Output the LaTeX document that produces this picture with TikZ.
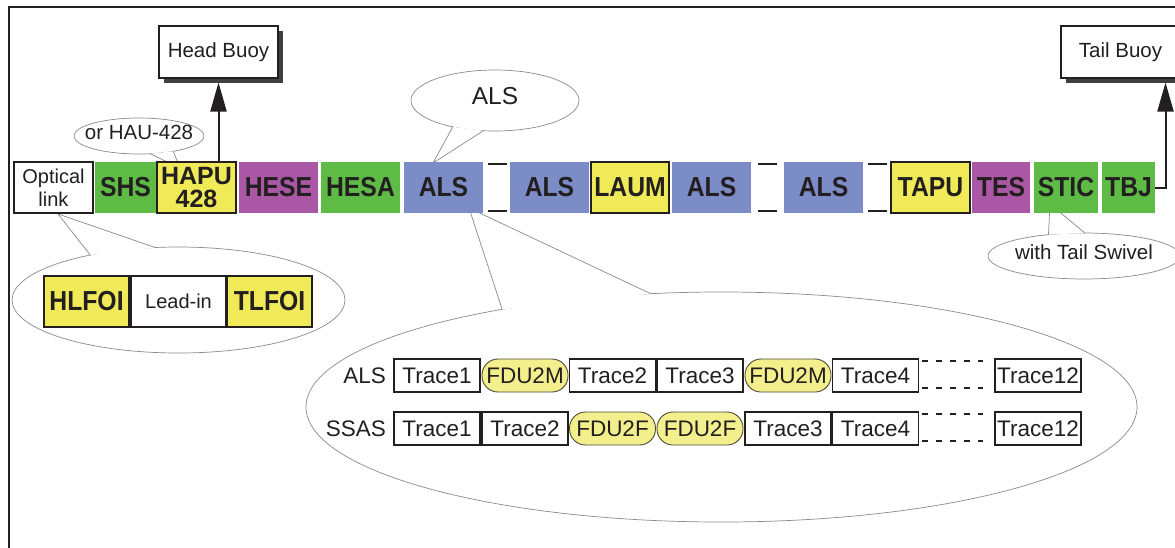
\documentclass[tikz,border=0pt]{standalone}
\usepackage{fontspec}
\setmainfont{Liberation Sans}
\newfontfamily\segfont[FakeStretch=0.9]{Liberation Sans}
\usetikzlibrary{shapes.geometric,arrows.meta,calc,shadows}

\definecolor{ink}{HTML}{231F20}
\definecolor{segGreen}{HTML}{5DBB46}
\definecolor{segPurple}{HTML}{AA58A5}
\definecolor{segBlue}{HTML}{7B8CC7}
\definecolor{segYellow}{HTML}{F0EA58}
\definecolor{fduYellow}{HTML}{F3EF8C}
\definecolor{fduEdge}{HTML}{4B4A35}
\definecolor{noteGray}{HTML}{8A8A8A}

\begin{document}
\begin{tikzpicture}[x=1pt,y=-1pt,
  every node/.style={inner sep=0pt,outer sep=0pt,text=ink},
  seg/.style={minimum width=79pt,minimum height=51pt,align=center,
    font=\segfont\fontsize{27.5}{23}\selectfont\bfseries},
  segbox/.style={seg,draw=ink,line width=2pt},
  note/.style={ellipse,draw=noteGray,line width=0.7pt,fill=white},
  notetext/.style={yshift=4pt,font=\fontsize{20.5}{24}\selectfont},
  tail/.style={draw=noteGray,line width=0.7pt,fill=white},
  buoy/.style={draw=ink,line width=2pt,fill=white,minimum width=119pt,
    minimum height=52pt,font=\fontsize{20.5}{24}\selectfont,
    drop shadow={shadow xshift=5pt,shadow yshift=-4.5pt,opacity=1,fill=black!75}},
  trace/.style={draw=ink,line width=1.8pt,fill=white,minimum width=86pt,
    minimum height=33pt,font=\fontsize{22.5}{24}\selectfont},
  fdu/.style={trace,draw=fduEdge,line width=0.9pt,fill=fduYellow,
    rounded corners=16pt},
  upline/.style={ink,line width=2pt,-{Triangle[length=29pt,width=16pt]},
    shorten >=4.5pt},
  brk/.style={ink,line width=2pt},
  tracegap/.style={ink,line width=1.5pt,dash pattern=on 6pt off 8pt}]
\useasboundingbox (0,0) rectangle (1175,547);
\clip (0,0) rectangle (1175,547);

% outer frame
\draw[ink,line width=1.8pt] (9,560) -- (9,7) -- (1190,7);

% callout tips
\coordinate (hautip) at (180,168);
\coordinate (alstip) at (433,163);
\coordinate (opttip) at (58,214);
\coordinate (detailtip) at (469,208);
\coordinate (stictip) at (1050,204);

% callouts
\node[note,minimum width=130pt,minimum height=36pt,
  label={[notetext]center:or HAU-428}] (haunote) at (139,136) {};
\draw[tail] (haunote.302) -- (hautip) -- (haunote.336);
\node[note,minimum width=168pt,minimum height=61pt,
  label={[notetext,font=\fontsize{24.5}{26}\selectfont]center:ALS}] (alsnote) at (495,100.5) {};
\draw[tail] (alsnote.212) -- (alstip) -- (alsnote.249);
\node[note,minimum width=333pt,minimum height=106pt] (optnote) at (178.5,300) {};
\draw[tail] (optnote.153) -- (opttip) -- (optnote.114);
\node[note,minimum width=831pt,minimum height=230pt] (detailnote) at (721.5,407) {};
\draw[tail] (detailnote.156) -- (detailtip) -- (detailnote.122);
\node[note,minimum width=192pt,minimum height=46pt,
  label={[notetext]center:with Tail Swivel}] (sticnote) at (1084,256) {};
\draw[tail] (sticnote.149) -- (stictip) -- (sticnote.88);

% buoys
\node[buoy] (headbuoy) at (218.5,52) {Head Buoy};
\node[buoy] (tailbuoy) at (1120.5,52) {Tail Buoy};

% streamer sections
\node[draw=ink,line width=2pt,fill=white,minimum width=79pt,minimum height=51pt,
  align=center,font=\fontsize{20}{23}\selectfont] (optical) at (53.5,187.5) {Optical\\link};
\node[seg,fill=segGreen,minimum width=61pt] (shs) at (125.5,187.5) {SHS};
\node[segbox,fill=segYellow,font=\fontsize{25}{23}\selectfont\bfseries] (hapu) at (196.5,187.5) {HAPU\\428};
\node[seg,fill=segPurple] (hese) at (278.5,187.5) {HESE};
\node[seg,fill=segGreen] (hesa) at (360.5,187.5) {HESA};
\node[seg,fill=segBlue] (als1) at (443.5,187.5) {ALS};
\node[seg,fill=segBlue] (als2) at (549.5,187.5) {ALS};
\node[segbox,fill=segYellow,minimum width=78pt] (laum) at (630,187.5) {LAUM};
\node[seg,fill=segBlue] (als3) at (711.5,187.5) {ALS};
\node[seg,fill=segBlue] (als4) at (823.5,187.5) {ALS};
\node[segbox,fill=segYellow] (tapu) at (930.5,187.5) {TAPU};
\node[seg,fill=segPurple,minimum width=58pt] (tes) at (1001,187.5) {TES};
\node[seg,fill=segGreen,minimum width=64pt] (stic) at (1066,187.5) {STIC};
\node[seg,fill=segGreen,minimum width=53pt] (tbj) at (1128.5,187.5) {TBJ};

% breaks in the ALS run
\draw[brk] ([xshift=5pt,yshift=-2pt]als1.north east) -- ([xshift=-3pt,yshift=-2pt]als2.north west);
\draw[brk] ([xshift=5pt,yshift=2pt]als1.south east) -- ([xshift=-3pt,yshift=2pt]als2.south west);
\draw[brk] ([xshift=7pt,yshift=-2pt]als3.north east) -- ([xshift=-7pt,yshift=-2pt]als4.north west);
\draw[brk] ([xshift=7pt,yshift=2pt]als3.south east) -- ([xshift=-7pt,yshift=2pt]als4.south west);
\draw[brk] ([xshift=5pt,yshift=-2pt]als4.north east) -- ([xshift=-4pt,yshift=-2pt]tapu.north west);
\draw[brk] ([xshift=5pt,yshift=2pt]als4.south east) -- ([xshift=-4pt,yshift=2pt]tapu.south west);

% tow points
\draw[upline] (hapu.north -| headbuoy.south) -- (headbuoy.south);
\draw[upline] (tbj.east) -| ([xshift=-14.5pt]tailbuoy.south east);

% lead-in
\node[segbox,fill=segYellow,minimum width=85pt] (hlfoi) at (86.5,301.5) {HLFOI};
\node[draw=ink,line width=2pt,fill=white,minimum width=95pt,minimum height=51pt,
  font=\fontsize{20}{23}\selectfont] (leadin) at (178.5,301.5) {Lead-in};
\node[segbox,fill=segYellow,minimum width=85pt] (tlfoi) at (269.5,301.5) {TLFOI};

% trace layout, ALS
\node[anchor=east,font=\fontsize{22.5}{24}\selectfont] (alsrow) at (386,375.5) {ALS};
\node[trace] (a1) at (437,375.5) {Trace1};
\node[fdu] (a2) at (525,375.5) {FDU2M};
\node[trace] (a3) at (612.5,375.5) {Trace2};
\node[trace] (a4) at (700,375.5) {Trace3};
\node[fdu] (a5) at (788,375.5) {FDU2M};
\node[trace] (a6) at (875.5,375.5) {Trace4};
\node[trace] (a12) at (1038,375.5) {Trace12};
\draw[tracegap] ([xshift=3.5pt,yshift=-2pt]a6.north east) -- ([xshift=-12pt,yshift=-2pt]a12.north west);
\draw[tracegap] ([xshift=3.5pt,yshift=4pt]a6.south east) -- ([xshift=-12pt,yshift=4pt]a12.south west);

% trace layout, SSAS
\node[anchor=east,font=\fontsize{22.5}{24}\selectfont] (ssasrow) at (386,428.5) {SSAS};
\node[trace] (s1) at (437,428.5) {Trace1};
\node[trace] (s2) at (525,428.5) {Trace2};
\node[fdu] (s3) at (612.5,428.5) {FDU2F};
\node[fdu] (s4) at (700,428.5) {FDU2F};
\node[trace] (s5) at (788,428.5) {Trace3};
\node[trace] (s6) at (875.5,428.5) {Trace4};
\node[trace] (s12) at (1038,428.5) {Trace12};
\draw[tracegap] ([xshift=3.5pt,yshift=-2pt]s6.north east) -- ([xshift=-12pt,yshift=-2pt]s12.north west);
\draw[tracegap] ([xshift=3.5pt,yshift=4pt]s6.south east) -- ([xshift=-12pt,yshift=4pt]s12.south west);
\end{tikzpicture}
\end{document}
